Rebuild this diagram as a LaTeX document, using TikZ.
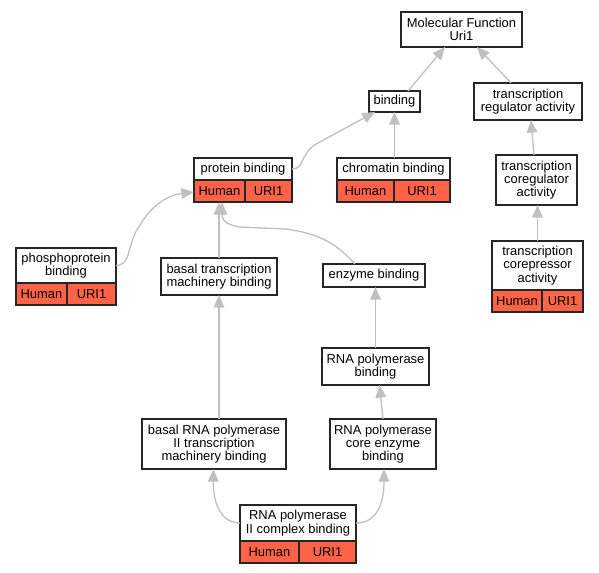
\documentclass[tikz,border=0pt]{standalone}
\usepackage{fontspec}
\setmainfont{Liberation Sans}
\usetikzlibrary{calc,arrows.meta}
\definecolor{genered}{RGB}{255,99,71}
\definecolor{edgegray}{RGB}{192,192,192}
\begin{document}
\begin{tikzpicture}[x=0.75pt,y=-0.75pt,
  box/.style={draw=black!85,line width=0.9pt,fill=white,inner sep=0pt,outer sep=0pt,align=center,font=\fontsize{9.7}{10}\selectfont},
  genecell/.style={box,fill=genered,anchor=north west,minimum height=16.5pt},
  edge/.style={draw=edgegray,line width=1pt,-{Triangle[length=9.5pt,width=8pt]}}]
\useasboundingbox (0,0) rectangle (599,573);
% nodes
\node[box,minimum width=90.75pt,minimum height=26.25pt] (mf) at (461.5,29.5) {Molecular Function\\Uri1};
\node[box,minimum width=38.25pt,minimum height=15.75pt] (bind) at (394.5,101.5) {binding};
\node[box,minimum width=81pt,minimum height=27.75pt] (tra) at (528,101.5) {transcription\\regulator activity};
\node[box,minimum width=73.5pt,minimum height=16.5pt] (pb) at (243,169) {protein binding};
\node[genecell,minimum width=38.25pt] (pbh) at (pb.south west) {Human};
\node[genecell,minimum width=35.25pt] (pbu) at (pbh.north east) {URI1};
\node[box,minimum width=84.75pt,minimum height=16.5pt] (cb) at (393.5,169) {chromatin binding};
\node[genecell,minimum width=42.75pt] (cbh) at (cb.south west) {Human};
\node[genecell,minimum width=42pt] (cbu) at (cbh.north east) {URI1};
\node[box,minimum width=60.75pt,minimum height=37.5pt] (tca) at (536.5,180) {transcription\\coregulator\\activity};
\node[box,minimum width=68.25pt,minimum height=36.75pt] (tcr) at (537.5,265.5) {transcription\\corepressor\\activity};
\node[genecell,minimum width=37.5pt] (tcrh) at (tcr.south west) {Human};
\node[genecell,minimum width=30.75pt] (tcru) at (tcrh.north east) {URI1};
\node[box,minimum width=75pt,minimum height=26.25pt] (ppb) at (66,265.5) {phosphoprotein\\binding};
\node[genecell,minimum width=38.25pt] (ppbh) at (ppb.south west) {Human};
\node[genecell,minimum width=36.75pt] (ppbu) at (ppbh.north east) {URI1};
\node[box,minimum width=87pt,minimum height=27.75pt] (btm) at (219,276.5) {basal transcription\\machinery binding};
\node[box,minimum width=76.5pt,minimum height=17.25pt] (eb) at (374,275.5) {enzyme binding};
\node[box,minimum width=80.25pt,minimum height=27.75pt] (rpb) at (375.5,366.5) {RNA polymerase\\binding};
\node[box,minimum width=108pt,minimum height=37.5pt] (brp) at (214,444) {basal RNA polymerase\\II transcription\\machinery binding};
\node[box,minimum width=79.5pt,minimum height=37.5pt] (rce) at (383,444) {RNA polymerase\\core enzyme\\binding};
\node[box,minimum width=87pt,minimum height=27pt] (rpc) at (298,523) {RNA polymerase\\II complex binding};
\node[genecell,minimum width=44.25pt] (rpch) at (rpc.south west) {Human};
\node[genecell,minimum width=42.75pt] (rpcu) at (rpch.north east) {URI1};
% edges
\draw[edge] ($(bind.north)+(13.5,0)$) -- ($(mf.south)+(-16.5,0)$);
\draw[edge] ($(tra.north)+(-17,0)$) -- ($(mf.south)+(15.5,0)$);
\draw[edge] (pb.east) .. controls (305,169) and (300,152) .. (318,143) -- ($(bind.south)+(-19.5,0)$);
\draw[edge] (cb.north -| bind.south) -- (bind.south);
\draw[edge] ($(tca.north)+(-2.5,0)$) -- ($(tra.south)+(3,0)$);
\draw[edge] (tcr.north) -- (tcr.north |- tca.south);
\draw[edge] (ppb.east) .. controls (132,265) and (126,245) .. (140,225) .. controls (152,205) and (168,195) .. ($(pbh.west)+(0,1)$);
\draw[edge] (btm.north) -- (btm.north |- pbh.south);
\draw[edge] ($(eb.north)+(-19,0)$) .. controls (340,248) and (325,234) .. (285,229) -- (240,227) .. controls (226,225) and (222,220) .. ($(pbh.south)+(2.5,0)$);
\draw[edge] (rpb.north) -- (rpb.north |- eb.south);
\draw[edge] (rce.north) -- ($(rpb.south)+(4,0)$);
\draw[edge] (btm.south |- brp.north) -- (btm.south);
\draw[edge] (rpc.west) .. controls (222,523) and (213,505) .. ($(brp.south)+(-0.5,0)$);
\draw[edge] (rpc.east) .. controls (376,523) and (384,505) .. ($(rce.south)+(1,0)$);
\end{tikzpicture}
\end{document}
